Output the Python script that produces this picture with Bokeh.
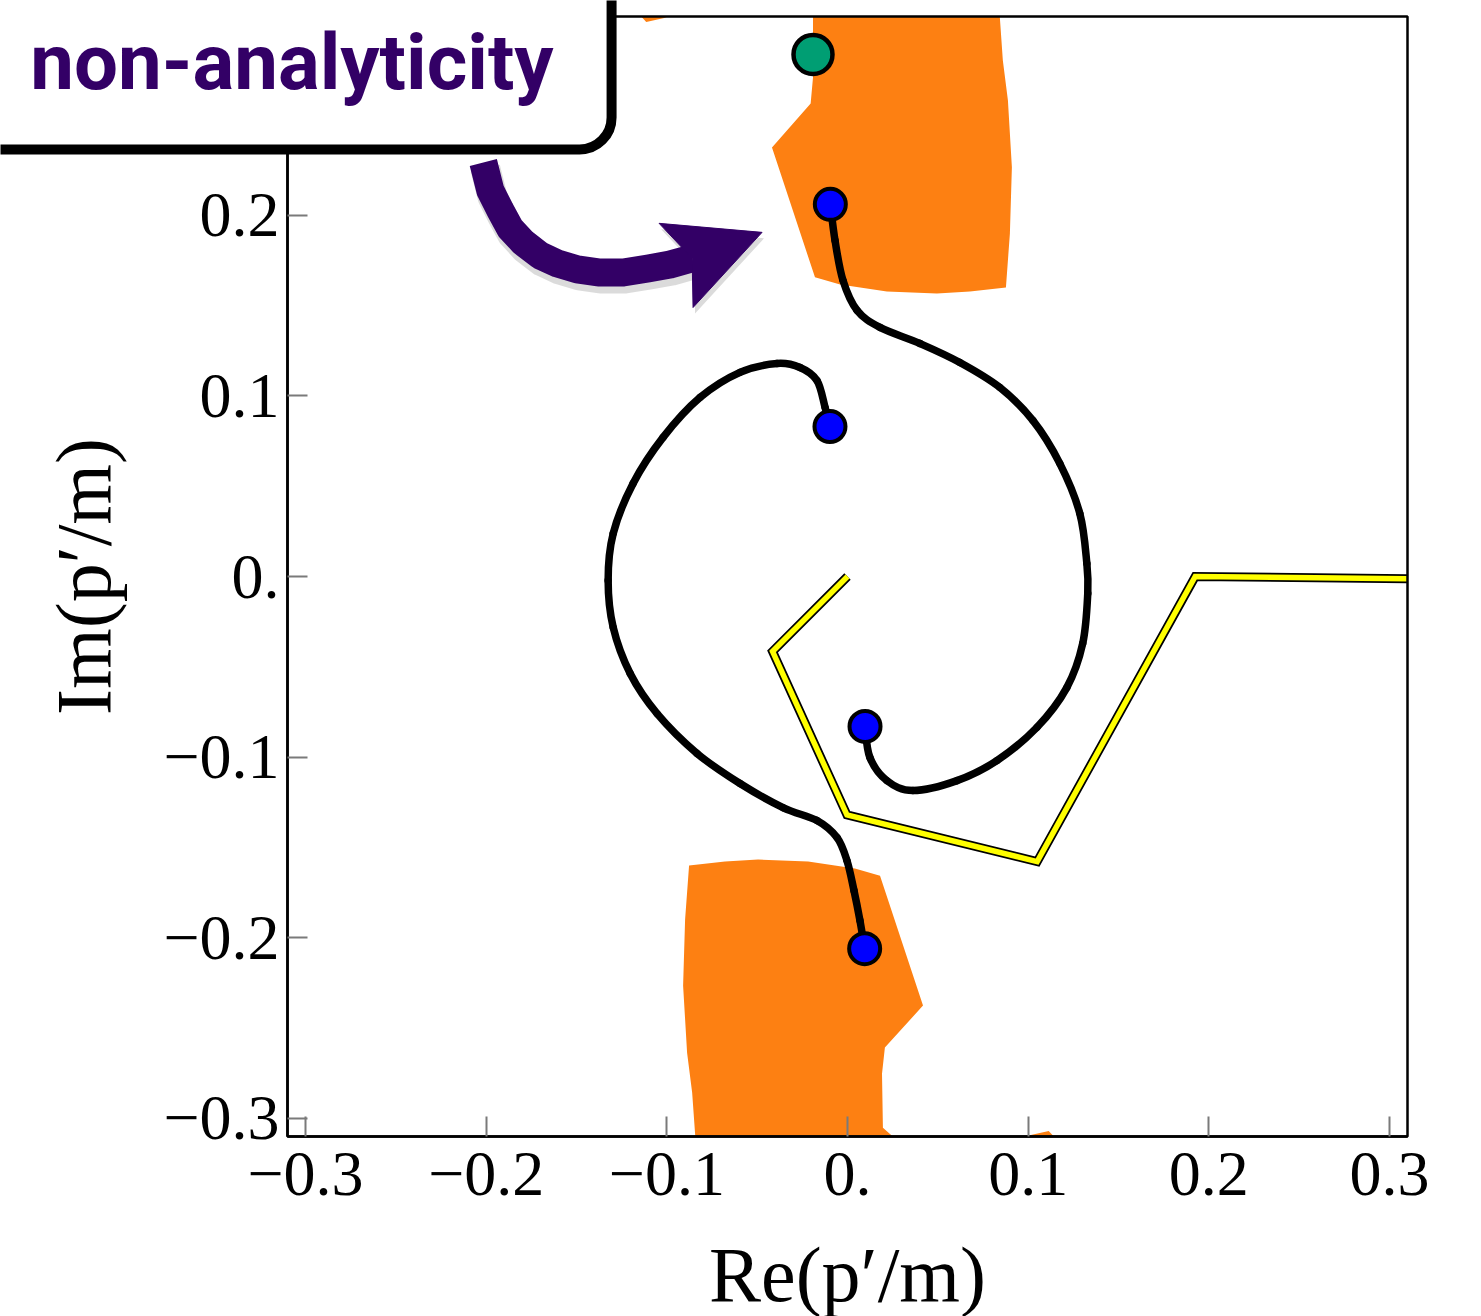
from bokeh.plotting import figure
from bokeh.models import Range1d, FixedTicker, Label
from bokeh.embed import file_html
from bokeh.resources import INLINE

# ---------------- data ----------------
ticks = [-0.3, -0.2, -0.1, 0.0, 0.1, 0.2, 0.3]
tick_labels = ["−0.3", "−0.2", "−0.1", "0.", "0.1", "0.2", "0.3"]
axis_lo, axis_hi = -0.31, 0.31

# orange regions (non-analytic domains)
top_re = [-0.0191, 0.0843, 0.0860, 0.0888, 0.0910, 0.0899, 0.0877, 0.0678, 0.0495,
          0.0218, -0.0041, -0.0180, -0.0418, -0.0204, -0.0191]
top_im = [0.31, 0.31, 0.2857, 0.2636, 0.2265, 0.1899, 0.1600, 0.1578, 0.1567,
          0.1578, 0.1617, 0.1656, 0.2375, 0.2618, 0.2763]
bot_re = [-0.0877, -0.0678, -0.0495, -0.0218, 0.0041, 0.0180, 0.0418, 0.0207,
          0.0191, 0.0196, 0.0251, -0.0832, -0.0843, -0.0860, -0.0888, -0.0910, -0.0899]
bot_im = [-0.1600, -0.1578, -0.1567, -0.1578, -0.1617, -0.1656, -0.2375, -0.2608,
          -0.2752, -0.3051, -0.31, -0.31, -0.3095, -0.2857, -0.2636, -0.2265, -0.1899]
sliver_top_re = [-0.1142, -0.0993, -0.1015, -0.1114]
sliver_top_im = [0.31, 0.31, 0.3092, 0.3070]
sliver_bot_re = [0.1142, 0.0993, 0.1015, 0.1114]
sliver_bot_im = [-0.31, -0.31, -0.3092, -0.3070]

# integration contour (yellow)
contour_re = [0.0, -0.0415, -0.0003, 0.1050, 0.1925, 0.31]
contour_im = [0.0, -0.0415, -0.1320, -0.1578, 0.0, -0.0012]

# trajectories (black)
traj_a_re = [-0.0095, -0.0069, -0.0025, 0.0053, 0.0180, 0.0401, 0.0622, 0.0843, 0.1026,
             0.1175, 0.1286, 0.1325, 0.1330, 0.1302, 0.1214, 0.1048, 0.0827, 0.0606,
             0.0362, 0.0218, 0.0124, 0.0097]
traj_a_im = [0.2060, 0.1860, 0.1639, 0.1473, 0.1379, 0.1290, 0.1185, 0.1047, 0.0864,
             0.0626, 0.0349, 0.0072, -0.0094, -0.0371, -0.0615, -0.0836, -0.1019, -0.1130,
             -0.1185, -0.1130, -0.1002, -0.0830]
traj_b_re = [-0.0097, -0.0124, -0.0169, -0.0263, -0.0390, -0.0595, -0.0816, -0.1021,
             -0.1187, -0.1297, -0.1325, -0.1297, -0.1203, -0.1054, -0.0832, -0.0595,
             -0.0357, -0.0169, -0.0058, -0.0003, 0.0036, 0.0069, 0.0095]
traj_b_im = [0.0830, 0.0936, 0.1085, 0.1157, 0.1179, 0.1130, 0.0991, 0.0770, 0.0515,
             0.0238, -0.0022, -0.0282, -0.0537, -0.0759, -0.0980, -0.1146, -0.1279,
             -0.1351, -0.1445, -0.1573, -0.1739, -0.1905, -0.2060]

# end points
pole_re = [-0.0095, -0.0097, 0.0097, 0.0095]
pole_im = [0.2060, 0.0830, -0.0830, -0.2060]
start_re = [-0.0191]
start_im = [0.2890]

# annotation arrow (centre line of shaft and head)
shaft_re = [-0.2016, -0.1977, -0.1922, -0.1867, -0.1795, -0.1701, -0.1607, -0.1496,
            -0.1380, -0.1242, -0.1104, -0.0982, -0.0860]
shaft_im = [0.2292, 0.2137, 0.2027, 0.1927, 0.1849, 0.1777, 0.1733, 0.1700,
            0.1683, 0.1683, 0.1705, 0.1727, 0.1761]
head_re = [-0.1043, -0.0473, -0.0855, -0.0860]
head_im = [0.1955, 0.1905, 0.1489, 0.1761]

annotation_text = "non-analyticity"
annotation_re, annotation_im = -0.1306, 0.2364   # bottom-right corner of the box

PURPLE = "#330066"
ORANGE = "#fd8012"

# ---------------- figure ----------------
W, H = 1481, 1316
frame_left, frame_right, frame_top, frame_bottom = 287, 1407, 16, 1136
scale = (frame_right - frame_left) / (axis_hi - axis_lo)
x_start = axis_lo - frame_left / scale
x_end = axis_hi + (W - frame_right) / scale
y_end = axis_hi + frame_top / scale
y_start = axis_lo - (H - frame_bottom) / scale

p = figure(width=W, height=H, output_backend="svg", toolbar_location=None,
           x_range=Range1d(x_start, x_end), y_range=Range1d(y_start, y_end),
           min_border=0)
p.grid.visible = False
p.background_fill_color = "white"
p.border_fill_color = "white"
p.outline_line_color = None

for ax in (p.xaxis[0], p.yaxis[0]):
    ax.fixed_location = axis_lo
    ax.bounds = (axis_lo, axis_hi)
    ax.ticker = FixedTicker(ticks=ticks)
    ax.major_label_overrides = dict(zip(ticks, tick_labels))
    ax.major_tick_in = 20
    ax.major_tick_out = 0
    ax.major_tick_line_color = "#7a7a7a"
    ax.major_tick_line_width = 2
    ax.minor_tick_line_color = None
    ax.axis_line_color = "black"
    ax.axis_line_width = 2.5
    ax.major_label_text_font = "Liberation Serif"
    ax.major_label_text_font_size = "64px"
    ax.major_label_text_color = "black"
    ax.axis_label_text_font = "Liberation Serif"
    ax.axis_label_text_font_size = "78px"
    ax.axis_label_text_font_style = "normal"
    ax.axis_label_text_color = "black"

p.xaxis[0].axis_label = "Re(p′/m)"
p.yaxis[0].axis_label = "Im(p′/m)"
p.xaxis[0].major_label_standoff = 16
p.xaxis[0].axis_label_standoff = 33
p.yaxis[0].major_label_standoff = 8
p.yaxis[0].axis_label_standoff = 33

p.patch(top_re, top_im, fill_color=ORANGE, line_color=None)
p.patch(bot_re, bot_im, fill_color=ORANGE, line_color=None)
p.patch(sliver_top_re, sliver_top_im, fill_color=ORANGE, line_color=None)
p.patch(sliver_bot_re, sliver_bot_im, fill_color=ORANGE, line_color=None)

# contour
p.line(contour_re, contour_im, line_color="black", line_width=9, line_join="miter")
p.line(contour_re, contour_im, line_color="#ffff00", line_width=5.5, line_join="miter")


def smooth_segments(xs, ys):
    """Cubic Bezier pieces passing through the read points (Catmull-Rom handles)."""
    n = len(xs)
    out = {k: [] for k in ("x0", "y0", "x1", "y1", "cx0", "cy0", "cx1", "cy1")}
    for i in range(n - 1):
        a = max(i - 1, 0)
        d = min(i + 2, n - 1)
        out["x0"].append(xs[i]); out["y0"].append(ys[i])
        out["x1"].append(xs[i + 1]); out["y1"].append(ys[i + 1])
        out["cx0"].append(xs[i] + (xs[i + 1] - xs[a]) / 6)
        out["cy0"].append(ys[i] + (ys[i + 1] - ys[a]) / 6)
        out["cx1"].append(xs[i + 1] - (xs[d] - xs[i]) / 6)
        out["cy1"].append(ys[i + 1] - (ys[d] - ys[i]) / 6)
    return out


for xs, ys in ((traj_a_re, traj_a_im), (traj_b_re, traj_b_im)):
    seg = smooth_segments(xs, ys)
    p.bezier(x0=seg["x0"], y0=seg["y0"], x1=seg["x1"], y1=seg["y1"],
             cx0=seg["cx0"], cy0=seg["cy0"], cx1=seg["cx1"], cy1=seg["cy1"],
             line_color="black", line_width=7.5, line_cap="round")

p.scatter(pole_re, pole_im, size=31, fill_color="#0000ff", line_color="black", line_width=4)
p.scatter(start_re, start_im, size=39, fill_color="#009e73", line_color="black", line_width=4.5)

# plot box (top and right edges; left/bottom coincide with the axes)
p.quad(left=[axis_lo], right=[axis_hi], bottom=[axis_lo], top=[axis_hi],
       fill_color=None, line_color="black", line_width=2.5)

# arrow shadow
dx, dy = 2.0 / scale, -6.0 / scale
p.line([v + dx for v in shaft_re], [v + dy for v in shaft_im], line_color="black",
       line_alpha=0.14, line_width=30, line_join="round")
p.patch([v + dx for v in head_re], [v + dy for v in head_im], fill_color="black",
        fill_alpha=0.14, line_color=None)
# arrow
p.line(shaft_re, shaft_im, line_color=PURPLE, line_width=28, line_join="round")
p.patch(head_re, head_im, fill_color=PURPLE, line_color=PURPLE, line_width=1)

# annotation box
box_kw = dict(x=annotation_re, y=annotation_im, x_units="data", y_units="data",
              anchor="bottom_right",
              text=annotation_text, text_font="Roboto", text_font_size="78px",
              text_font_style="bold",
              border_radius=32,
              padding=dict(left=80, right=58, top=50, bottom=41))
shadow = Label(**box_kw, text_alpha=0.0, background_fill_color="black",
               background_fill_alpha=0.25, x_offset=3, y_offset=-9)
box = Label(**box_kw, text_color=PURPLE, background_fill_color="white",
            background_fill_alpha=1.0, border_line_color="black", border_line_width=10)
p.add_layout(shadow)
p.add_layout(box)

open("out.html", "w").write(file_html(p, INLINE))
